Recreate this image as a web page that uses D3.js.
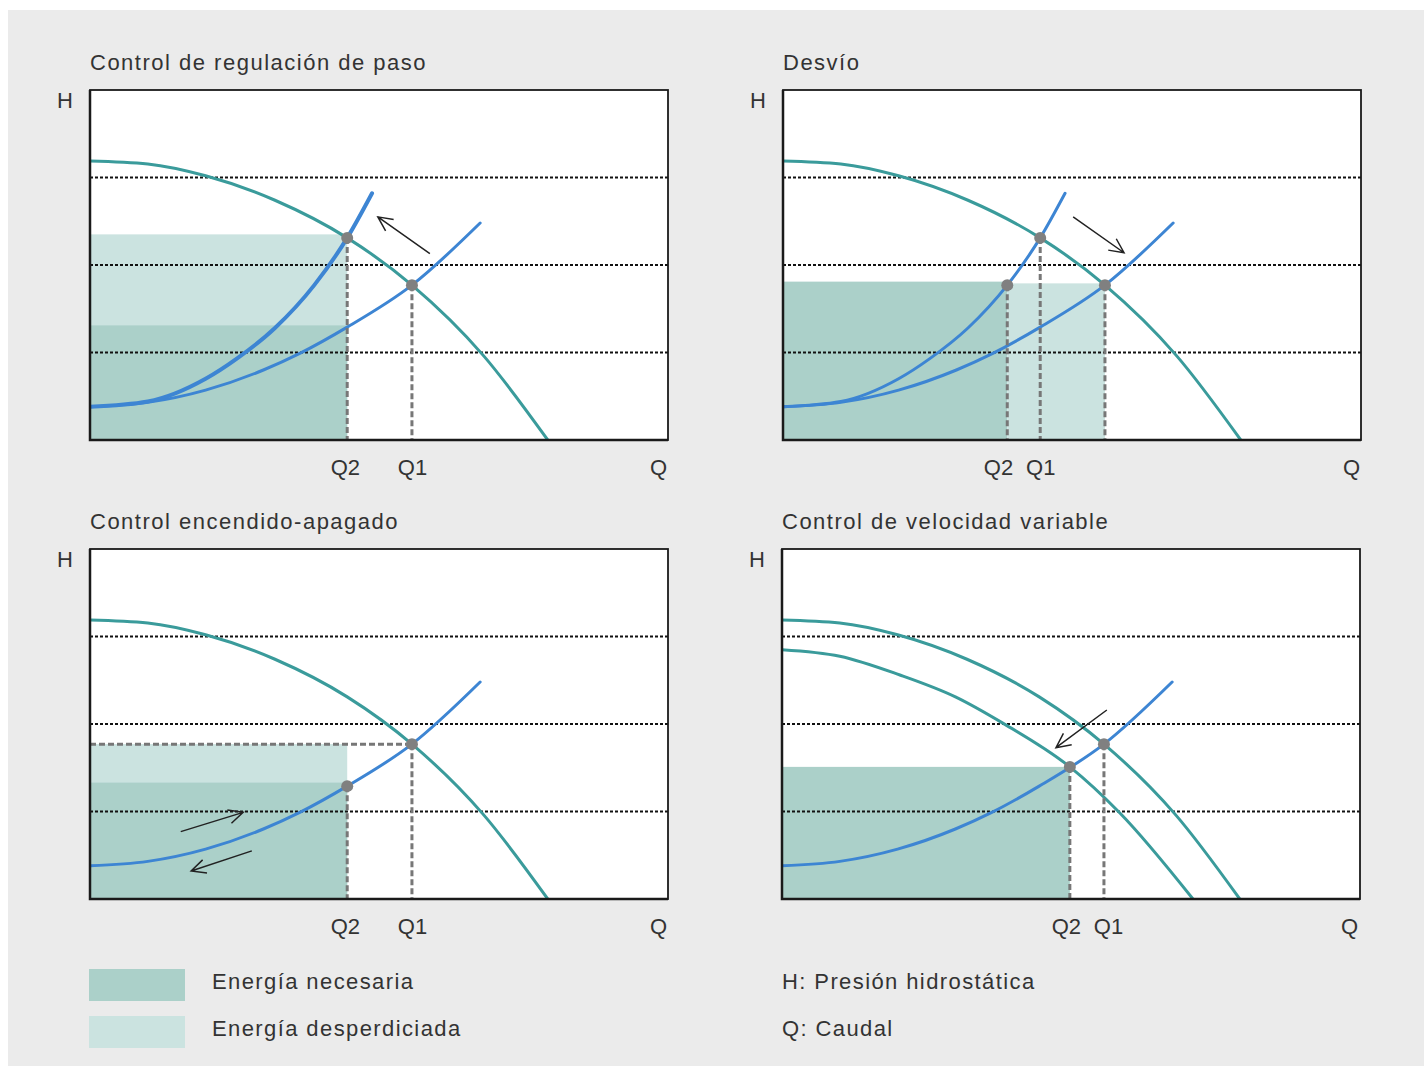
<!DOCTYPE html>
<html><head><meta charset="utf-8">
<script src="https://cdn.jsdelivr.net/npm/d3@7"></script>
<style>
body{margin:0;background:#fff;}
text{font-family:"Liberation Sans",Arial,Helvetica,sans-serif;fill:#333;}
</style></head>
<body>
<script>
// ---------- DATA ----------
const panelTitles = ["Control de regulación de paso","Desvío","Control encendido-apagado","Control de velocidad variable"];
// pump curve (H vs Q)
const pumpCurve = [[0,3.19],[1,3.155],[2,3.02],[3.2,2.74],[4.45,2.31],[5.57,1.77],[6.8,0.97],[7.92,0]];
// reduced-speed pump curve (panel 4)
const pumpCurveLow = [[0,2.85],[1,2.775],[2.04,2.56],[3,2.31],[3.82,2.01],[4.98,1.51],[5.85,0.98],[7.11,0]];
// system curves
const systemFlat = [[0,0.38],[1,0.43],[2,0.57],[3,0.80],[3.63,0.99],[4.45,1.29],[5.57,1.77],[6.75,2.48]];
const systemSteep = [[0,0.38],[1,0.44],[2,0.70],[2.54,0.93],[3.2,1.28],[3.88,1.77],[4.45,2.31],[4.88,2.82]];
// gridline levels of H
const hGrid = [1,2,3];
// shaded areas per panel: [q0, q1, h, kind]  kind: "nec" necessary, "waste" wasted
const areas = [
  [[0,4.45,2.35,"waste"],[0,4.45,1.31,"nec"]],
  [[0,3.88,1.81,"nec"],[3.88,5.57,1.79,"waste"]],
  [[0,4.45,1.77,"waste"],[0,4.45,1.33,"nec"]],
  [[0,4.98,1.51,"nec"]]
];
// operating points per panel [Q,H]
const opPoints = [
  [[4.45,2.31],[5.57,1.77]],
  [[3.88,1.77],[4.45,2.31],[5.57,1.77]],
  [[4.45,1.29],[5.57,1.77]],
  [[4.98,1.51],[5.57,1.77]]
];
// horizontal dashed guides [q0,q1,h]
const hGuides = [[],[],[[0,5.57,1.77]],[]];
// curves present per panel
const panelCurves = [
  [["pump",pumpCurve],["sys",systemFlat],["sysThick",systemSteep]],
  [["pump",pumpCurve],["sys",systemFlat],["sys",systemSteep]],
  [["pump",pumpCurve],["sys",systemFlat]],
  [["pump",pumpCurve],["pump",pumpCurveLow],["sys",systemFlat]]
];
// arrows per panel [[q0,h0],[q1,h1]]
const arrows = [
  [[[5.88,2.13],[4.98,2.55]]],
  [[[5.02,2.55],[5.90,2.14]]],
  [[[1.57,0.77],[2.65,0.99]],[[2.80,0.55],[1.75,0.32]]],
  [[[5.62,2.16],[4.74,1.73]]]
];
// Q axis tick values and labels
const qTickValues = [[4.41,5.57,9.83],[3.72,4.45,9.83],[4.41,5.57,9.83],[4.91,5.64,9.81]];
const qTickLabels = [["Q2","Q1","Q"],["Q2","Q1","Q"],["Q2","Q1","Q"],["Q2","Q1","Q"]];
const legendItems = [["Energía necesaria","nec"],["Energía desperdiciada","waste"]];
const legendNotes = ["H: Presión hidrostática","Q: Caudal"];

// ---------- STYLE / LAYOUT ----------
const W=1424,H=1066;
const colors = {nec:"#abd0c9", waste:"#cbe3e0", pump:"#3a9b9b", sys:"#3d85d3", point:"#808080", drop:"#777"};
const panels = [{x:90,y:90},{x:783,y:90},{x:90,y:549},{x:782,y:549}];
const pw=578, ph=350;

const svg = d3.select("body").append("svg").attr("width",W).attr("height",H);
svg.append("rect").attr("x",8).attr("y",10).attr("width",W-8).attr("height",H-10).attr("fill","#ebebeb");

const defs = svg.append("defs");

const x = d3.scaleLinear().domain([0,10]).range([0,pw]);
const y = d3.scaleLinear().domain([0,4]).range([ph,0]);
const line = d3.line().x(d=>x(d[0])).y(d=>y(d[1])).curve(d3.curveMonotoneX);

panels.forEach((p,i)=>{
  const g = svg.append("g").attr("transform",`translate(${p.x},${p.y})`);
  defs.append("clipPath").attr("id","clip"+i).append("rect").attr("width",pw).attr("height",ph);
  g.append("rect").attr("width",pw).attr("height",ph).attr("fill","#fff");
  const c = g.append("g").attr("clip-path",`url(#clip${i})`);
  // areas
  areas[i].forEach(a=>{
    c.append("rect").attr("x",x(a[0])).attr("width",x(a[1])-x(a[0]))
      .attr("y",y(a[2])).attr("height",y(0)-y(a[2])).attr("fill",colors[a[3]]);
  });
  // grid
  hGrid.forEach(h=>{
    c.append("line").attr("x1",0).attr("x2",pw).attr("y1",y(h)).attr("y2",y(h))
      .attr("stroke","#111").attr("stroke-width",1.8).attr("stroke-dasharray","3,2");
  });
  // curves
  panelCurves[i].forEach(([kind,data])=>{
    c.append("path").attr("d",line(data)).attr("fill","none")
      .attr("stroke", kind==="pump"?colors.pump:colors.sys)
      .attr("stroke-width", kind==="sysThick"?4:3)
      .attr("stroke-linecap","round");
  });
  // drops
  opPoints[i].forEach(pt=>{
    c.append("line").attr("x1",x(pt[0])).attr("x2",x(pt[0])).attr("y1",y(pt[1])).attr("y2",y(0))
      .attr("stroke",colors.drop).attr("stroke-width",3).attr("stroke-dasharray","6,3");
  });
  hGuides[i].forEach(hg=>{
    c.append("line").attr("x1",x(hg[0])).attr("x2",x(hg[1])).attr("y1",y(hg[2])).attr("y2",y(hg[2]))
      .attr("stroke",colors.drop).attr("stroke-width",3).attr("stroke-dasharray","6,3");
  });
  opPoints[i].forEach(pt=>{
    c.append("circle").attr("cx",x(pt[0])).attr("cy",y(pt[1])).attr("r",6).attr("fill",colors.point);
  });
  // arrows
  arrows[i].forEach(([a,b])=>{
    const x0=x(a[0]),y0=y(a[1]),x1=x(b[0]),y1=y(b[1]);
    const ang=Math.atan2(y1-y0,x1-x0), L=16, s=0.45;
    const p1=[x1-L*Math.cos(ang-s), y1-L*Math.sin(ang-s)];
    const p2=[x1-L*Math.cos(ang+s), y1-L*Math.sin(ang+s)];
    g.append("path").attr("d",`M${x0},${y0}L${x1},${y1}M${p1[0]},${p1[1]}L${x1},${y1}L${p2[0]},${p2[1]}`)
      .attr("fill","none").attr("stroke","#222").attr("stroke-width",1.5);
  });
  // frame: thin top/right, heavier left/bottom axes
  g.append("rect").attr("width",pw).attr("height",ph).attr("fill","none").attr("stroke","#1a1a1a").attr("stroke-width",1.8);
  g.append("path").attr("d",`M0,0V${ph}H${pw}`).attr("fill","none").attr("stroke","#1a1a1a").attr("stroke-width",2.5);
  // x axis labels
  const ax = d3.axisBottom(x).tickValues(qTickValues[i]).tickSize(0).tickPadding(19)
    .tickFormat((d,k)=>qTickLabels[i][k]);
  const axg = g.append("g").attr("transform",`translate(0,${ph})`).call(ax);
  axg.select(".domain").remove();
  axg.selectAll("text").style("font-size","22px").attr("fill","#333").style("font-family",'"Liberation Sans",Arial,sans-serif');
  // H label
  g.append("text").attr("x",-33).attr("y",18).style("font-size","22px").text("H");
  // title
  g.append("text").attr("x",0).attr("y",-20).style("font-size","22px").style("letter-spacing","1.5px").text(panelTitles[i]);
});

// legend
legendItems.forEach((it,k)=>{
  const yy = 969 + k*47;
  svg.append("rect").attr("x",89).attr("y",yy).attr("width",96).attr("height",32).attr("fill",colors[it[1]]);
  svg.append("text").attr("x",212).attr("y",yy+20).style("font-size","22px").style("letter-spacing","1.4px").text(it[0]);
});
legendNotes.forEach((t,k)=>{
  svg.append("text").attr("x",782).attr("y",989+k*47).style("font-size","22px").style("letter-spacing","1.4px").text(t);
});
</script>
</body></html>
